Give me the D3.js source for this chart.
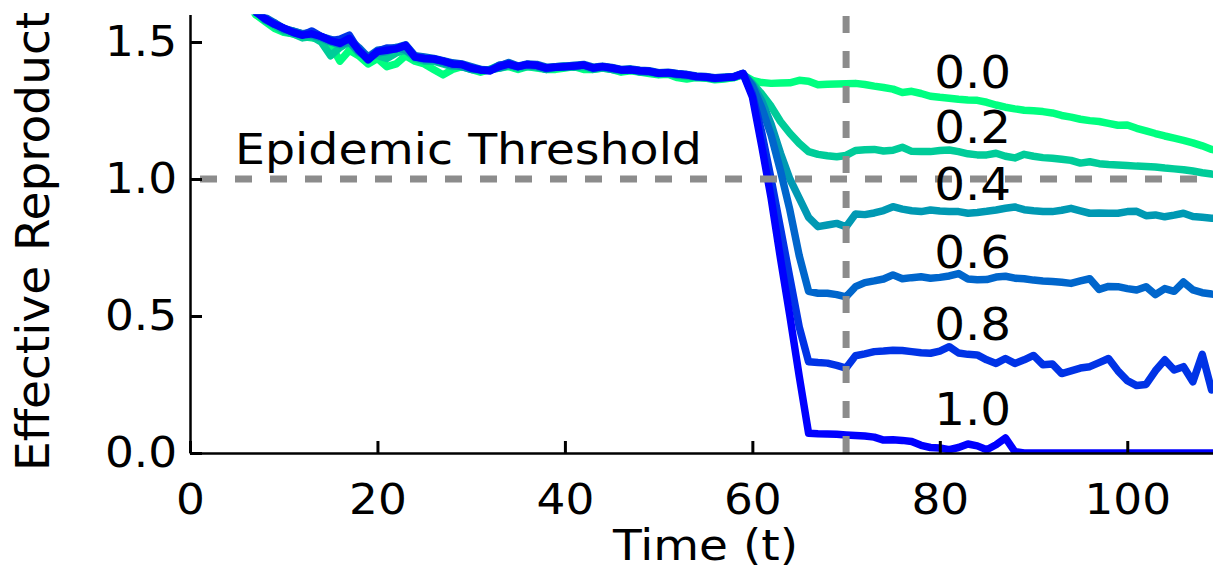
<!DOCTYPE html>
<html>
<head>
<meta charset="utf-8">
<script src="https://cdn.jsdelivr.net/npm/d3@7"></script>
<style>
body { margin: 0; background: white; }
svg text { font-family: "DejaVu Sans", sans-serif; fill: black; }
</style>
</head>
<body>
<svg id="chart"></svg>
<script>

// time steps (t)
var timeSteps = d3.range(0, 111);

// probability values shown beside each curve
var probLabels = ["0.0", "0.2", "0.4", "0.6", "0.8", "1.0"];
var probColors = ["#00ff80", "#00cc99", "#0099b3", "#0066cc", "#0033e6", "#0000ff"];

// where the probability labels sit (t, value)
var labelTime = 83.5;
var labelVals = [1.332, 1.131, 0.923, 0.675, 0.412, 0.102];

var xTicks = [0, 20, 40, 60, 80, 100];
var yTicks = [0.0, 0.5, 1.0, 1.5];

var thresholdValue = 1.0;
var interventionTime = 70;

// effective reproduction number for each probability
var r00 = [2.04,1.97,1.90,1.83,1.76,1.70,1.65,1.60,1.575,1.55,
    1.535,1.53,1.52,1.515,1.51,1.49,1.43,1.47,1.45,1.42,
    1.44,1.41,1.42,1.45,1.43,1.42,1.40,1.38,1.40,1.41,
    1.40,1.39,1.40,1.405,1.41,1.40,1.41,1.405,1.40,1.40,
    1.405,1.41,1.40,1.40,1.405,1.40,1.39,1.395,1.39,1.385,
    1.38,1.382,1.37,1.365,1.37,1.368,1.362,1.365,1.37,1.38,
    1.36,1.352,1.349,1.35,1.351,1.36,1.357,1.344,1.346,1.347,
    1.348,1.349,1.345,1.339,1.334,1.328,1.316,1.32,1.312,1.302,
    1.298,1.295,1.291,1.288,1.287,1.28,1.27,1.262,1.256,1.251,
    1.249,1.246,1.241,1.232,1.226,1.218,1.213,1.21,1.203,1.196,
    1.197,1.185,1.176,1.166,1.157,1.149,1.141,1.132,1.121,1.108,
    1.10];

var r02 = [2.06,1.99,1.91,1.84,1.78,1.72,1.66,1.62,1.58,1.56,
    1.54,1.53,1.515,1.52,1.50,1.45,1.48,1.50,1.46,1.45,
    1.45,1.44,1.46,1.47,1.44,1.43,1.43,1.42,1.41,1.415,
    1.40,1.395,1.40,1.415,1.415,1.405,1.41,1.41,1.40,1.405,
    1.41,1.408,1.41,1.40,1.405,1.40,1.395,1.40,1.39,1.39,
    1.385,1.385,1.378,1.375,1.37,1.37,1.365,1.368,1.37,1.382,
    1.35,1.31,1.265,1.21,1.167,1.13,1.10,1.09,1.085,1.081,
    1.086,1.104,1.107,1.108,1.102,1.105,1.116,1.101,1.10,1.10,
    1.104,1.106,1.10,1.092,1.088,1.088,1.094,1.083,1.077,1.09,
    1.083,1.078,1.076,1.072,1.068,1.058,1.063,1.056,1.053,1.051,
    1.049,1.047,1.046,1.044,1.04,1.037,1.034,1.029,1.023,1.018,
    1.015];

var r04 = [2.05,1.98,1.91,1.84,1.77,1.71,1.66,1.615,1.58,1.57,
    1.545,1.54,1.53,1.525,1.515,1.50,1.49,1.50,1.465,1.445,
    1.46,1.465,1.48,1.47,1.45,1.435,1.435,1.425,1.415,1.41,
    1.40,1.40,1.398,1.405,1.415,1.41,1.415,1.41,1.40,1.41,
    1.412,1.41,1.415,1.402,1.408,1.40,1.398,1.40,1.392,1.39,
    1.385,1.386,1.38,1.378,1.372,1.37,1.366,1.37,1.372,1.383,
    1.345,1.285,1.20,1.094,1.00,0.93,0.86,0.826,0.832,0.838,
    0.826,0.872,0.87,0.876,0.885,0.899,0.89,0.884,0.881,0.887,
    0.883,0.881,0.881,0.875,0.878,0.882,0.887,0.893,0.898,0.888,
    0.884,0.881,0.881,0.886,0.893,0.884,0.875,0.876,0.875,0.875,
    0.881,0.882,0.866,0.869,0.862,0.868,0.875,0.863,0.86,0.857,
    0.855];

var r06 = [2.05,1.985,1.90,1.835,1.775,1.715,1.655,1.61,1.59,1.57,
    1.55,1.54,1.53,1.535,1.52,1.51,1.50,1.51,1.48,1.445,
    1.47,1.475,1.48,1.49,1.45,1.445,1.44,1.432,1.424,1.42,
    1.41,1.40,1.398,1.412,1.425,1.412,1.42,1.418,1.408,1.41,
    1.412,1.415,1.418,1.408,1.412,1.407,1.40,1.402,1.397,1.395,
    1.388,1.39,1.385,1.382,1.376,1.374,1.37,1.372,1.374,1.386,
    1.34,1.26,1.16,1.03,0.887,0.72,0.59,0.583,0.583,0.578,
    0.57,0.607,0.622,0.628,0.635,0.65,0.636,0.64,0.643,0.638,
    0.641,0.646,0.655,0.635,0.632,0.633,0.642,0.645,0.638,0.636,
    0.631,0.628,0.626,0.623,0.619,0.628,0.636,0.597,0.608,0.607,
    0.60,0.595,0.607,0.578,0.60,0.59,0.624,0.595,0.585,0.58,
    0.577];

var r08 = [2.05,1.98,1.905,1.83,1.77,1.71,1.65,1.61,1.585,1.565,
    1.55,1.535,1.525,1.54,1.52,1.505,1.51,1.525,1.47,1.438,
    1.465,1.478,1.476,1.487,1.446,1.44,1.438,1.43,1.42,1.418,
    1.405,1.398,1.395,1.415,1.42,1.41,1.418,1.415,1.405,1.408,
    1.41,1.412,1.416,1.405,1.41,1.405,1.398,1.399,1.395,1.393,
    1.386,1.388,1.383,1.38,1.374,1.372,1.368,1.37,1.372,1.385,
    1.31,1.17,1.0,0.82,0.64,0.46,0.333,0.33,0.328,0.32,
    0.31,0.355,0.362,0.37,0.372,0.375,0.374,0.37,0.366,0.364,
    0.372,0.388,0.365,0.36,0.358,0.34,0.327,0.345,0.327,0.34,
    0.356,0.322,0.325,0.29,0.30,0.31,0.315,0.33,0.345,0.30,
    0.264,0.246,0.25,0.30,0.34,0.303,0.315,0.26,0.36,0.23,
    0.25];

var r10 = [2.05,1.98,1.90,1.83,1.77,1.71,1.65,1.61,1.585,1.565,
    1.55,1.535,1.525,1.53,1.52,1.505,1.495,1.513,1.47,1.435,
    1.465,1.47,1.475,1.488,1.445,1.44,1.438,1.43,1.42,1.418,
    1.405,1.398,1.395,1.41,1.42,1.41,1.418,1.415,1.405,1.408,
    1.41,1.412,1.416,1.405,1.41,1.405,1.398,1.399,1.395,1.393,
    1.386,1.388,1.383,1.38,1.374,1.372,1.368,1.37,1.372,1.385,
    1.30,1.12,0.93,0.71,0.50,0.28,0.072,0.070,0.069,0.068,
    0.066,0.064,0.062,0.058,0.047,0.048,0.046,0.042,0.028,0.020,
    0.018,0.012,0.020,0.033,0.026,0.012,0.030,0.055,0.005,0,
    0,0,0,0,0,0,0,0,0,0,
    0,0,0,0,0,0,0,0,0,0,
    0];

var seriesList = [r00, r02, r04, r06, r08, r10];


var initChart = function()
{
    //the size of the screen
    var screen = {width:1213, height:569};

    //how much space will be on each side of the graph
    var margins = {top:14.6, bottom:116, left:190, right:-8};

    var graph =
    {
        width:screen.width-margins.left-margins.right,
        height:screen.height-margins.top-margins.bottom
    };

    var svg = d3.select("svg#chart")
        .attr("width",screen.width)
        .attr("height",screen.height)
        .style("background-color","white");

    var defs = svg.append("defs");
    defs.append("clipPath")
        .attr("id","plotClip")
        .append("rect")
        .attr("x",margins.left)
        .attr("y",margins.top)
        .attr("width",graph.width)
        .attr("height",graph.height);
    defs.append("clipPath")
        .attr("id","figClip")
        .append("rect")
        .attr("x",0)
        .attr("y",13)
        .attr("width",screen.width)
        .attr("height",screen.height-13);

    var xScale = d3.scaleLinear()
        .domain([0,110])
        .range([margins.left,margins.left+graph.width]);

    var yScale = d3.scaleLinear()
        .domain([0,1.6])
        .range([margins.top+graph.height,margins.top]);

    //the curves
    var lineGenerator = d3.line()
        .x(function(d,i){ return xScale(timeSteps[i]); })
        .y(function(d){ return yScale(d); });

    svg.append("g")
        .attr("clip-path","url(#plotClip)")
        .selectAll("path")
        .data(seriesList)
        .enter()
        .append("path")
        .attr("d",lineGenerator)
        .attr("fill","none")
        .attr("stroke",function(d,i){ return probColors[i]; })
        .attr("stroke-width",7.5)
        .attr("stroke-linejoin","round");

    //threshold and intervention guides
    var guides = svg.append("g")
        .attr("clip-path","url(#plotClip)")
        .attr("stroke","#8c8c8c")
        .attr("stroke-width",7)
        .attr("stroke-dasharray","17,18");
    guides.append("line")
        .attr("x1",xScale(0)).attr("x2",xScale(110))
        .attr("y1",yScale(thresholdValue)).attr("y2",yScale(thresholdValue))
        .attr("stroke-dashoffset",-10);
    guides.append("line")
        .attr("x1",xScale(interventionTime)).attr("x2",xScale(interventionTime))
        .attr("y1",yScale(0)).attr("y2",yScale(1.6));

    //axes
    var xAxis = d3.axisBottom(xScale)
        .tickValues(xTicks)
        .tickSizeInner(-12)
        .tickSizeOuter(0)
        .tickPadding(31);
    var yAxis = d3.axisLeft(yScale)
        .tickValues(yTicks)
        .tickFormat(d3.format(".1f"))
        .tickSizeInner(-12)
        .tickSizeOuter(0)
        .tickPadding(12);

    var gx = svg.append("g")
        .attr("transform","translate(0,"+yScale(0)+")")
        .call(xAxis);
    var gy = svg.append("g")
        .attr("transform","translate("+xScale(0)+",0)")
        .call(yAxis);

    [gx,gy].forEach(function(g){
        g.select(".domain").attr("stroke","black").attr("stroke-width",2.5);
        g.selectAll(".tick line").attr("stroke","black").attr("stroke-width",3);
        g.selectAll(".tick text")
            .attr("font-size",42)
            .style("font-family","DejaVu Sans");
    });
    gx.selectAll(".tick text").attr("transform","scale(1.08,1)");
    gy.selectAll(".tick text").attr("transform","scale(1.08,1)");

    //labels
    var labels = svg.append("g")
        .classed("labels",true);

    labels.append("text")
        .text("Time (t)")
        .attr("font-size",42)
        .attr("text-anchor","middle")
        .attr("transform","translate("+xScale(55)+",560) scale(1.12,1)");

    //y label sits in a clipped group, the figure is cut at the top
    labels.append("g")
        .attr("clip-path","url(#figClip)")
        .append("text")
        .text("Effective Reproduction Number")
        .attr("font-size",47)
        .attr("transform","translate(49,471) rotate(-90)");

    labels.append("text")
        .text("Epidemic Threshold")
        .attr("font-size",42)
        .attr("transform","translate("+xScale(4.8)+","+yScale(1.055)+") scale(1.13,1)");

    labels.selectAll(".prob")
        .data(probLabels)
        .enter()
        .append("text")
        .classed("prob",true)
        .text(function(d){ return d; })
        .attr("font-size",44)
        .attr("text-anchor","middle")
        .attr("transform",function(d,i){
            return "translate("+xScale(labelTime)+","+yScale(labelVals[i])+") scale(1.1,1)";
        });
};

initChart();
</script>
</body>
</html>
